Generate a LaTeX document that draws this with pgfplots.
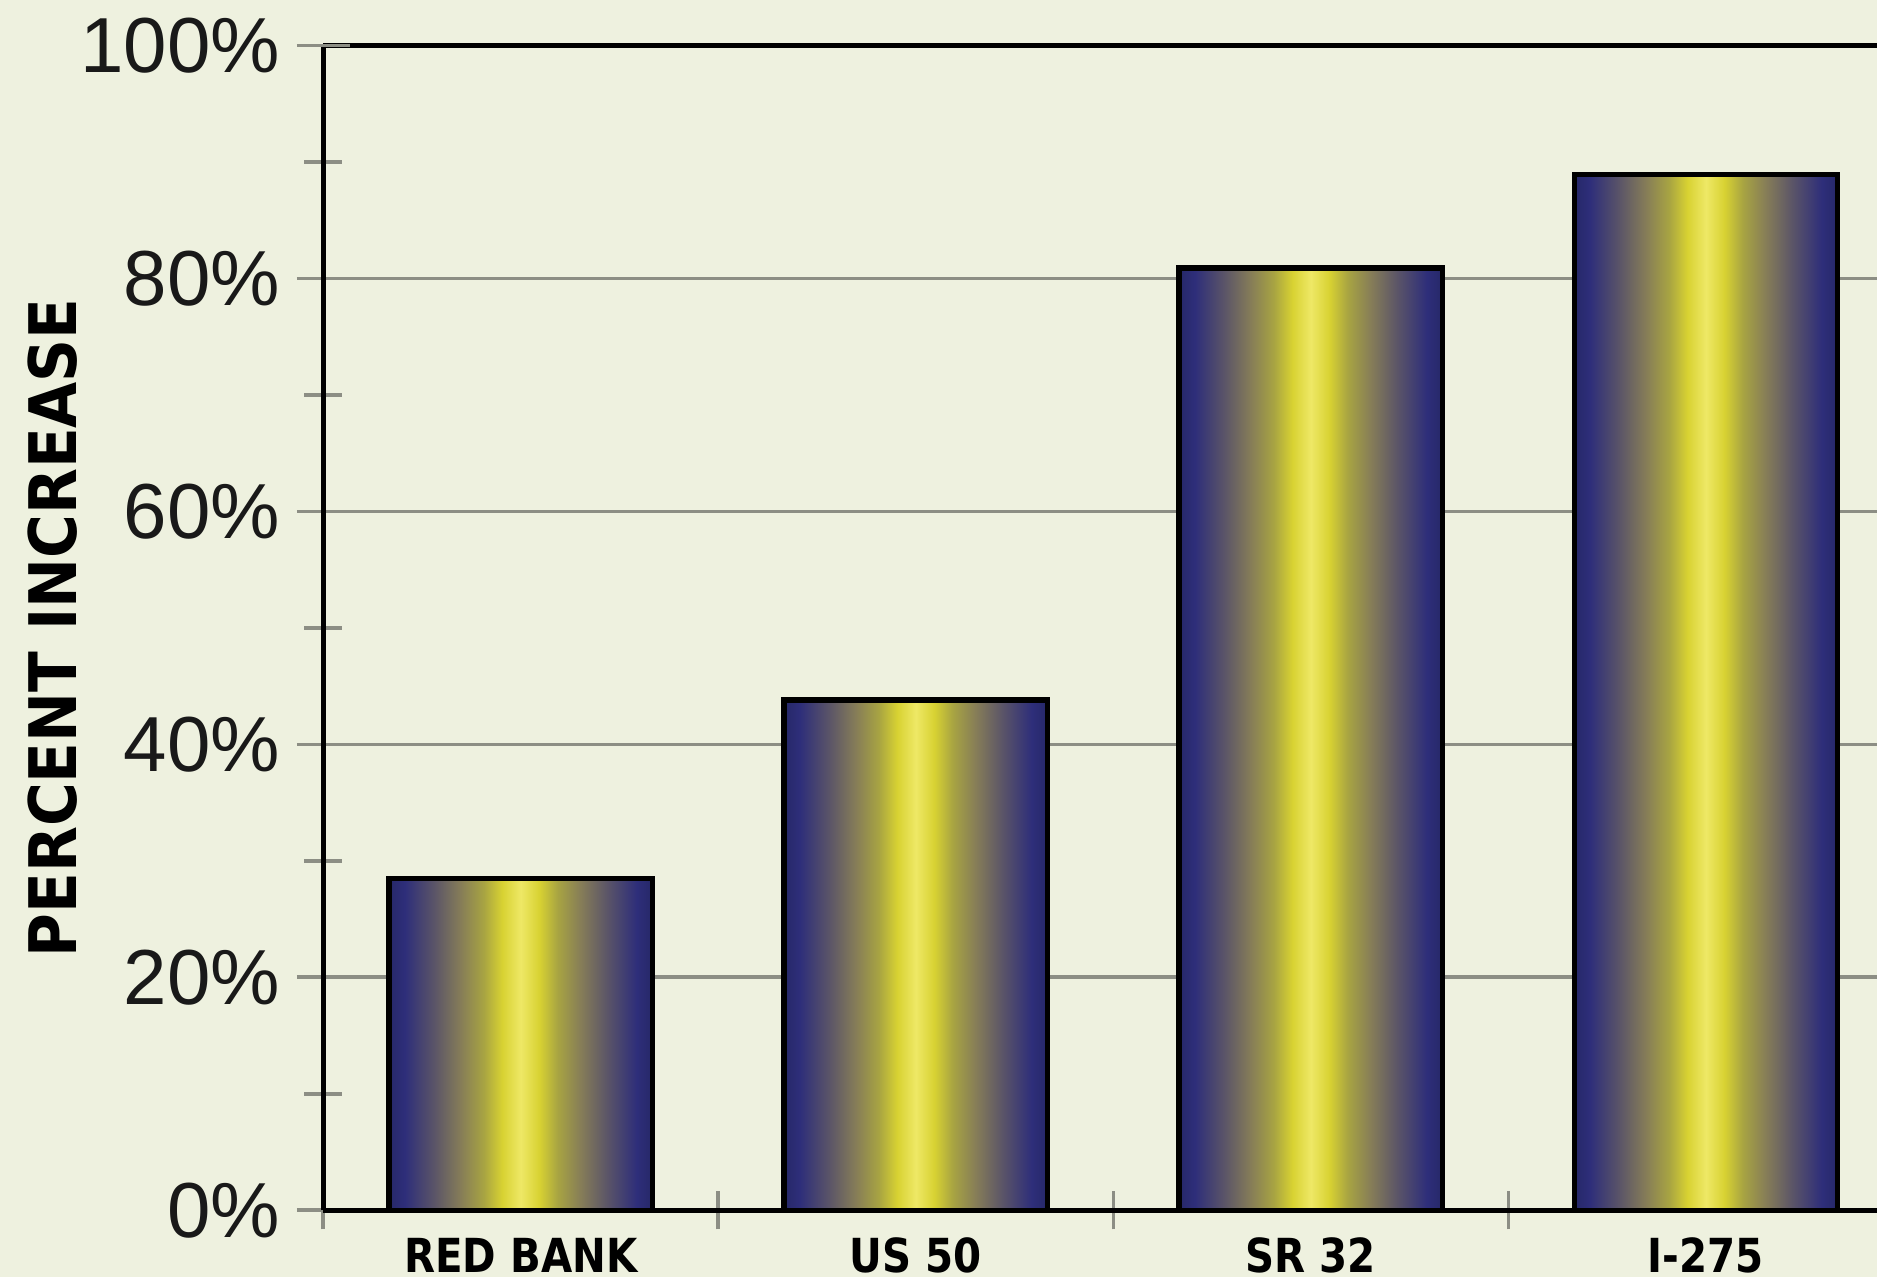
\documentclass[border=0pt]{standalone}
\usepackage{pgfplots}
\pgfplotsset{compat=1.18}
\usepackage{fontspec}
\setmainfont{Liberation Sans}
\newfontfamily\labfont[FakeStretch=0.91]{DejaVu Sans}
\newfontfamily\catfont[FakeStretch=0.86]{DejaVu Sans}
\definecolor{bg}{HTML}{EEF1DF}
\definecolor{gridc}{HTML}{8C8E84}
\definecolor{s0}{HTML}{262868}
\definecolor{s1}{HTML}{2E2E7A}
\definecolor{s2}{HTML}{5A5468}
\definecolor{s3}{HTML}{857C58}
\definecolor{s4}{HTML}{A8A442}
\definecolor{s5}{HTML}{D8D232}
\definecolor{s6}{HTML}{EEE866}
\pgfdeclarehorizontalshading{barshade}{100bp}{color(0bp)=(s0); color(25bp)=(s0); color(28bp)=(s1); color(33.5bp)=(s2); color(38.5bp)=(s3); color(43bp)=(s4); color(46.5bp)=(s5); color(50bp)=(s6); color(53.5bp)=(s5); color(57bp)=(s4); color(61.5bp)=(s3); color(66.5bp)=(s2); color(72bp)=(s1); color(75bp)=(s0); color(100bp)=(s0)}
\pgfplotsset{onebar/.style={ybar, bar width=0.667, bar shift=0pt, draw=black, line width=1.1pt, shading=barshade}}
\begin{document}
\begin{tikzpicture}
\fill[bg] (0,0) rectangle (392pt,266.75pt);
\useasboundingbox (0,0) rectangle (392pt,266.75pt);
\begin{axis}[
  at={(67.5pt,14pt)}, anchor=south west,
  scale only axis, width=324.5pt, height=243.25pt,
  xmin=-0.5, xmax=3.433, ymin=0, ymax=100,
  axis x line*=bottom, axis y line*=left,
  axis line style={black, line width=1pt},
  xtick={0,1,2,3}, xticklabels={RED BANK, US 50, SR 32, I-275},
  minor xtick={-0.5,0.5,1.5,2.5},
  ytick={0,20,40,60,80}, minor ytick={10,30,50,70,90},
  extra y ticks={100}, extra y tick style={grid style={black, line width=1pt}},
  ymajorgrids, grid style={gridc, line width=0.75pt},
  tick align=center, major tick length=11pt, minor tick length=8pt,
  tick style={gridc, line width=0.75pt},
  every major x tick/.append style={draw=none},
  /pgf/number format/assume math mode=true,
  yticklabel={\pgfmathprintnumber{\tick}\%},
  yticklabel style={font=\fontsize{16.3}{17}\selectfont, text=black!90},
  xticklabel style={font=\catfont\bfseries\fontsize{9.8}{10}\selectfont, text=black, yshift=3.2pt},
  ylabel={PERCENT INCREASE},
  ylabel style={font=\labfont\bfseries\fontsize{13.7}{14}\selectfont, at={(axis description cs:-0.174,0.5)}, anchor=center},
]
\addplot[onebar] coordinates {(0,28.5)};
\addplot[onebar] coordinates {(1,43.8)};
\addplot[onebar] coordinates {(2,80.9)};
\addplot[onebar] coordinates {(3,88.9)};
\end{axis}
\end{tikzpicture}
\end{document}
